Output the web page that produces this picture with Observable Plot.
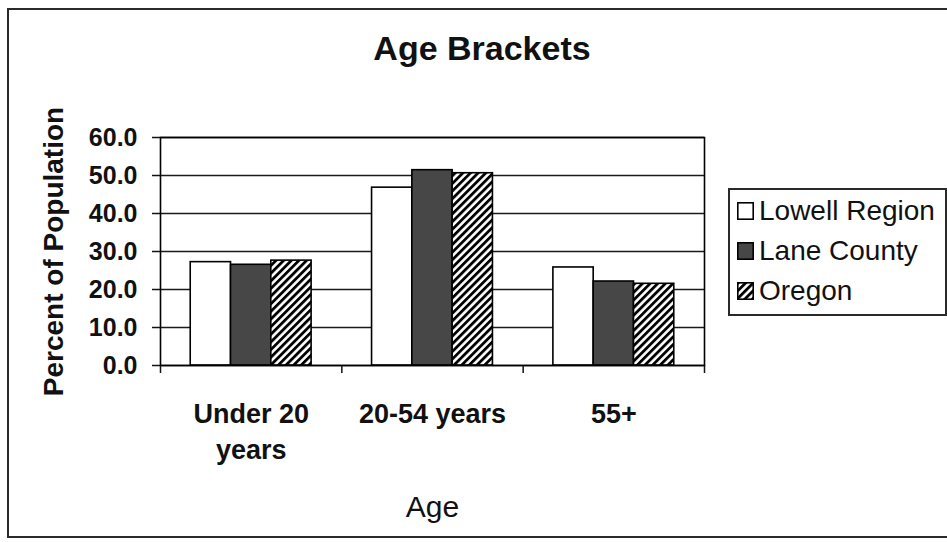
<!DOCTYPE html>
<html>
<head>
<meta charset="utf-8">
<script src="https://cdn.jsdelivr.net/npm/d3@7"></script>
<script src="https://cdn.jsdelivr.net/npm/@observablehq/plot@0.6"></script>
<style>
  html, body { margin: 0; padding: 0; background: #fff; }
  #wrap { position: relative; width: 947px; height: 542px; overflow: hidden;
          font-family: "Liberation Sans", Arial, sans-serif; color: #111; }
  #border { position: absolute; left: 7px; top: 8px; width: 980px; height: 530px;
            border: 2px solid #2a2a2a; box-sizing: border-box; }
  #title { position: absolute; left: 482px; top: 31px; transform: translateX(-50%);
           font-size: 34px; font-weight: bold; line-height: 34px; white-space: nowrap; }
  #chart { position: absolute; left: 0; top: 0; }
  #legend { position: absolute; left: 728px; top: 188px; width: 219px; height: 128px;
            border: 2px solid #2a2a2a; box-sizing: border-box; padding: 1px 0 0 7px; background: #fff; }
  .item { height: 40px; line-height: 40px; font-size: 28px; white-space: nowrap; }
  .item svg { vertical-align: baseline; margin-right: 5px; }
</style>
</head>
<body>
<svg width="0" height="0" style="position:absolute">
  <defs>
    <pattern id="hatch" patternUnits="userSpaceOnUse" width="5.4" height="5.4" patternTransform="rotate(45)">
      <rect x="0" y="0" width="5.4" height="5.4" fill="#fff"></rect>
      <rect x="0" y="0" width="2.8" height="5.4" fill="#000"></rect>
    </pattern>
  </defs>
</svg>
<div id="wrap">
  <div id="border"></div>
  <div id="chart"></div>
  <div id="title">Age Brackets</div>
  <div id="legend"></div>
</div>
<script>
// ---- data ----
const categories = ["Under 20\nyears", "20-54 years", "55+"];
const series = ["Lowell Region", "Lane County", "Oregon"];
const lowellRegion = [27.2, 46.8, 25.8];
const laneCounty = [26.5, 51.4, 22.1];
const oregon = [27.6, 50.6, 21.5];
const yTicks = [0, 10, 20, 30, 40, 50, 60];
const yLabel = "Percent of Population";
const xLabel = "Age";

// ---- styles ----
const fills = ["#ffffff", "#474747", "url(#hatch)"];
const gapWidth = 1.5; // Excel-style gap width (fraction of a bar width)

const valuesBySeries = [lowellRegion, laneCounty, oregon];
const slot = 1 / (series.length + gapWidth);
const rows = [];
categories.forEach((cat, i) => {
  series.forEach((s, j) => {
    const x1 = i + slot * (gapWidth / 2 + j);
    rows.push({category: cat, series: s, value: valuesBySeries[j][i], x1, x2: x1 + slot});
  });
});
const boundaries = d3.range(categories.length + 1);
const centers = categories.map((d, i) => i + 0.5);

const chart = Plot.plot({
  width: 947,
  height: 542,
  marginLeft: 160,
  marginRight: 243,
  marginTop: 137,
  marginBottom: 177,
  style: {fontFamily: "'Liberation Sans', Arial, sans-serif", background: "transparent", color: "#111", overflow: "visible"},
  x: {domain: [0, categories.length]},
  y: {domain: [0, 60]},
  color: {domain: series, range: fills},
  marks: [
    Plot.ruleY(yTicks, {stroke: "#1a1a1a", strokeWidth: 1.3}),
    Plot.rect(rows, {x1: "x1", x2: "x2", y1: 0, y2: "value", fill: "series", stroke: "#000", strokeWidth: 1.6}),
    Plot.frame({stroke: "#000", strokeWidth: 1.6}),
    Plot.axisY({ticks: yTicks, tickFormat: d3.format(".1f"), tickSize: 8, tickPadding: 15,
      fontSize: 25, fontWeight: "bold", label: null, strokeWidth: 1.5}),
    Plot.axisY({ticks: [], label: yLabel, labelArrow: "none", labelAnchor: "center", labelOffset: 117,
      fontSize: 28, fontWeight: "bold"}),
    Plot.axisX({ticks: boundaries, tickFormat: () => "", tickSize: 8, label: null, strokeWidth: 1.5}),
    Plot.axisX({ticks: centers, tickFormat: (d) => categories[Math.floor(d)], tickSize: 0, tickPadding: 33,
      fontSize: 27, fontWeight: "bold", lineHeight: 1.3, label: null}),
    Plot.axisX({ticks: [], label: xLabel, labelArrow: "none", labelAnchor: "center", labelOffset: 151, fontSize: 30})
  ]
});
document.getElementById("chart").appendChild(chart);

// legend
const legend = document.getElementById("legend");
series.forEach((s, j) => {
  const row = document.createElement("div");
  row.className = "item";
  row.innerHTML = `<svg width="17" height="18"><rect x="0.8" y="0.8" width="15.4" height="16.4" fill="${fills[j]}" stroke="#000" stroke-width="1.6"></rect></svg>${s}`;
  legend.appendChild(row);
});
</script>
</body>
</html>
